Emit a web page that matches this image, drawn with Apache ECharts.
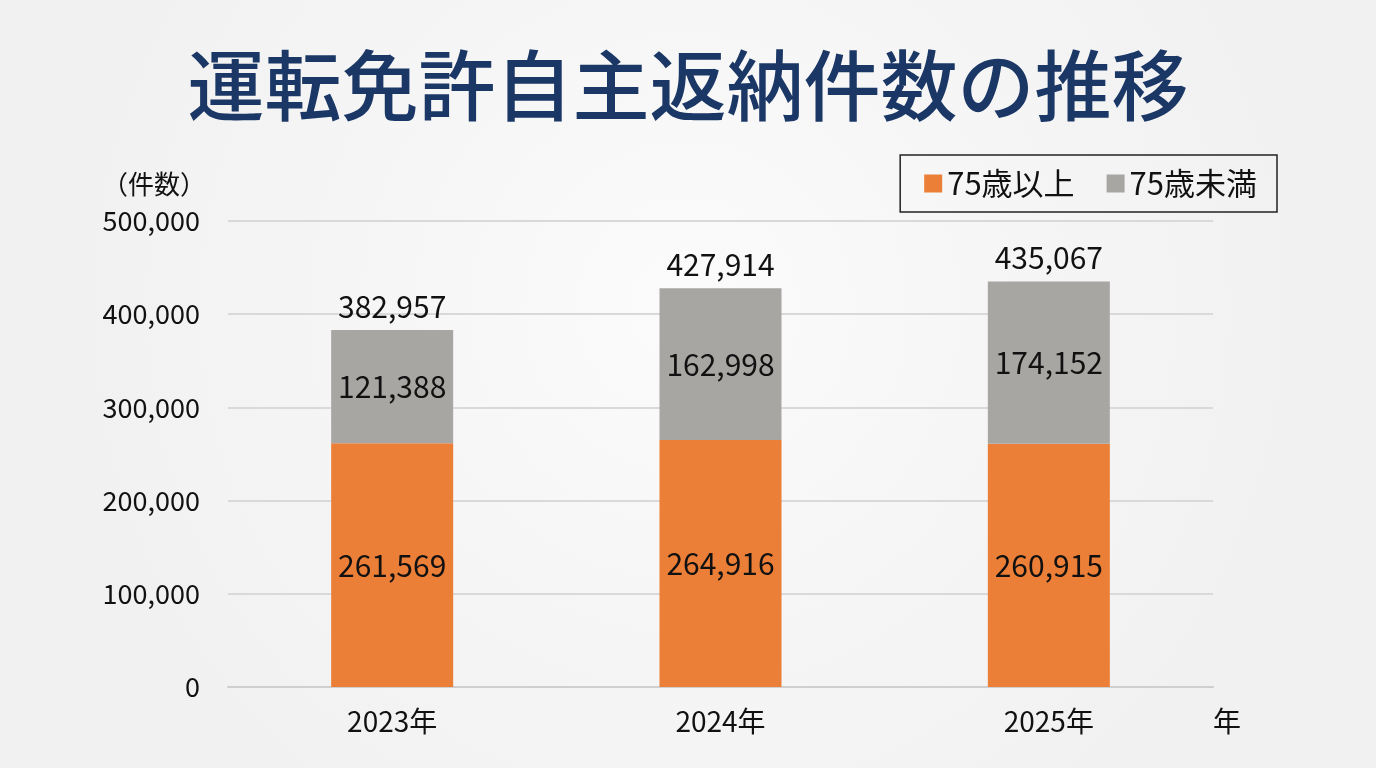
<!DOCTYPE html>
<html>
<head>
<meta charset="utf-8">
<script src="https://cdn.jsdelivr.net/npm/echarts@6/dist/echarts.min.js"></script>
<style>
  html, body { margin: 0; padding: 0; }
  #chart { width: 1376px; height: 768px; }
</style>
</head>
<body>
<div id="chart"></div>
<script>
const years = ["2023年", "2024年", "2025年"];
const over75 = [261569, 264916, 260915];
const under75 = [121388, 162998, 174152];
const totals = [382957, 427914, 435067];

const fmt = v => v.toLocaleString("en-US");
const font = '"Noto Sans CJK JP", "Noto Sans", sans-serif';

const chart = echarts.init(document.getElementById("chart"));
chart.setOption({
    backgroundColor: {
        type: "radial", x: 0.5, y: 0.4, r: 0.8,
        colorStops: [{ offset: 0, color: "#fbfbfb" }, { offset: 1, color: "#f1f1f1" }]
    },
    textStyle: { fontFamily: font },
    title: {
        text: "運転免許自主返納件数の推移",
        left: "center",
        top: 42,
        textStyle: { fontSize: 77, fontWeight: 500, color: "#1b3766", fontFamily: font }
    },
    legend: {
        data: ["75歳以上", "75歳未満"],
        right: 99,
        top: 155,
        itemWidth: 18,
        itemHeight: 18,
        itemGap: 32,
        padding: [13, 20, 13, 24],
        borderColor: "#222",
        borderWidth: 1.5,
        borderRadius: 0,
        icon: "rect",
        textStyle: { fontSize: 31, color: "#111" }
    },
    grid: { left: 228, right: 163, top: 221, bottom: 81 },
    xAxis: {
        type: "category",
        data: years,
        name: "年",
        nameLocation: "end",
        nameGap: 0,
        nameTextStyle: { fontSize: 28, color: "#111", verticalAlign: "top", padding: [20, 0, 0, 0] },
        axisLine: { lineStyle: { color: "#cfcfcf", width: 2 } },
        axisTick: { show: false },
        axisLabel: { fontSize: 28, color: "#111", margin: 20 }
    },
    yAxis: {
        type: "value",
        min: 0,
        max: 500000,
        interval: 100000,
        name: "（件数）",
        nameLocation: "end",
        nameGap: 24,
        nameTextStyle: { fontSize: 26, color: "#111", align: "right", padding: [0, 22, 0, 0] },
        axisLine: { show: false },
        axisTick: { show: false },
        splitLine: { lineStyle: { color: "#d9d9d9", width: 2 } },
        axisLabel: { fontSize: 27, color: "#111", margin: 28, formatter: v => fmt(v) }
    },
    series: [
        {
            name: "75歳以上",
            type: "bar",
            stack: "total",
            data: over75,
            barWidth: 122,
            itemStyle: { color: "#ec7f37" },
            label: { show: true, position: "inside", fontSize: 30, color: "#111", formatter: p => fmt(p.value) }
        },
        {
            name: "75歳未満",
            type: "bar",
            stack: "total",
            data: under75,
            barWidth: 122,
            itemStyle: { color: "#a8a6a3" },
            label: { show: true, position: "inside", fontSize: 30, color: "#111", formatter: p => fmt(p.value) }
        },
        {
            name: "合計",
            type: "line",
            data: totals,
            symbol: "circle",
            symbolSize: 1,
            itemStyle: { opacity: 0 },
            lineStyle: { opacity: 0 },
            silent: true,
            z: 5,
            label: { show: true, position: "top", distance: 8, fontSize: 30, color: "#111", opacity: 1, formatter: p => fmt(p.value) }
        }
    ]
});
</script>
</body>
</html>
